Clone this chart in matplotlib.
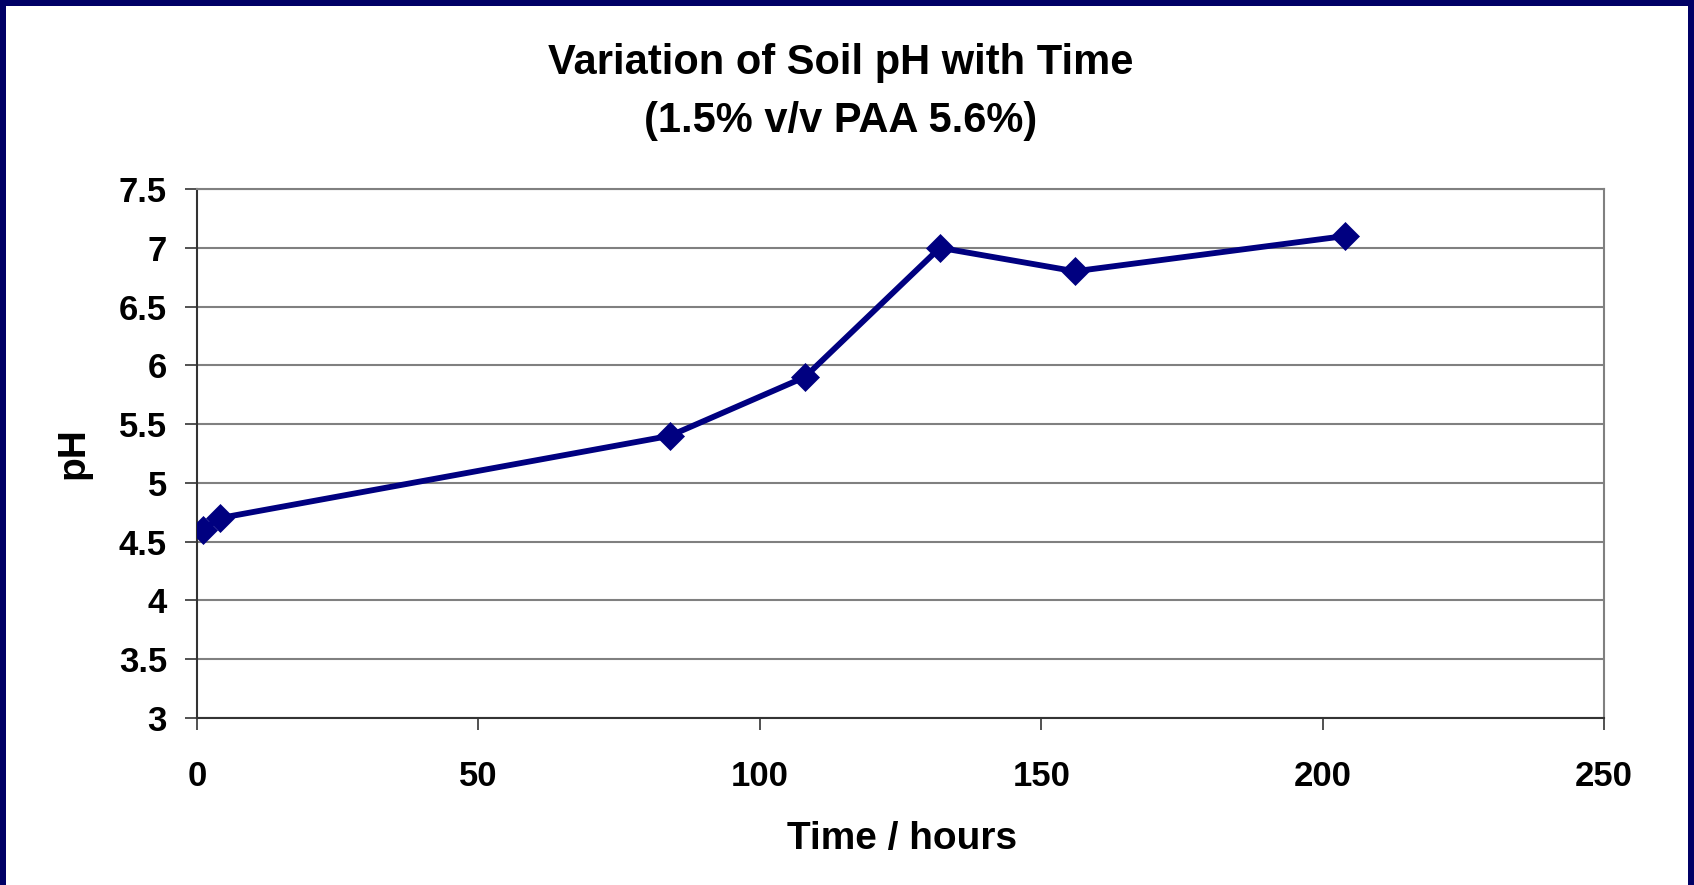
import matplotlib
matplotlib.use("Agg")
from matplotlib import pyplot as plt
from matplotlib.patches import Rectangle

# data
time_hours = [1, 4, 84, 108, 132, 156, 204]
soil_ph = [4.6, 4.7, 5.4, 5.9, 7.0, 6.8, 7.1]

x_ticks = [0, 50, 100, 150, 200, 250]
y_ticks = [3, 3.5, 4, 4.5, 5, 5.5, 6, 6.5, 7, 7.5]
y_tick_labels = ["3", "3.5", "4", "4.5", "5", "5.5", "6", "6.5", "7", "7.5"]

plt.rcParams['font.family'] = ['Liberation Sans', 'DejaVu Sans']
plt.rcParams['font.weight'] = 'bold'

W, H = 1694, 885
fig = plt.figure(figsize=(W / 100, H / 100), dpi=100)
fig.patch.set_facecolor("white")

# navy frame (left, top, right)
navy = "#000066"
bw = 6
for x0, y0, w, h in [(0, 0, bw, H), (0, H - bw, W, bw), (W - bw, 0, bw, H)]:
    fig.add_artist(Rectangle((x0 / W, y0 / H), w / W, h / H,
                             transform=fig.transFigure, color=navy, lw=0))

ax = fig.add_axes([197 / W, 1 - 718 / H, (1604 - 197) / W, (718 - 189) / H])

ax.plot(time_hours, soil_ph, color="#000080", linewidth=4.2,
        marker="D", markersize=14.5, markeredgewidth=0.5, zorder=3)

ax.set_xlim(0, 250)
ax.set_ylim(3, 7.5)
ax.set_xticks(x_ticks)
ax.set_yticks(y_ticks)
ax.set_yticklabels(y_tick_labels)

ax.grid(axis="y", color="#808080", linewidth=1.5)
ax.set_axisbelow(True)

for side in ["top", "right"]:
    ax.spines[side].set_color("#808080")
    ax.spines[side].set_linewidth(1.5)
for side in ["left", "bottom"]:
    ax.spines[side].set_color("#333333")
    ax.spines[side].set_linewidth(1.5)

ax.tick_params(axis="both", direction="out", length=8.6, width=1.2,
               color="#333333", labelsize=25)
ax.tick_params(axis="y", pad=13)
ax.tick_params(axis="x", pad=22)
for lbl in ax.get_xticklabels() + ax.get_yticklabels():
    lbl.set_fontweight("bold")

ax.set_xlabel("Time / hours", fontsize=28, fontweight="bold", va="center")
ax.xaxis.set_label_coords(0.501, -0.2287)
ax.set_ylabel("pH", fontsize=28, fontweight="bold", va="center")
ax.yaxis.set_label_coords(-0.0881, 0.5)

fig.text(841 / W, 1 - 74 / H, "Variation of Soil pH with Time",
         ha="center", va="baseline", fontsize=30, fontweight="bold")
fig.text(841 / W, 1 - 132 / H, "(1.5% v/v PAA 5.6%)",
         ha="center", va="baseline", fontsize=30, fontweight="bold")

fig.savefig("out.png", dpi=100)
